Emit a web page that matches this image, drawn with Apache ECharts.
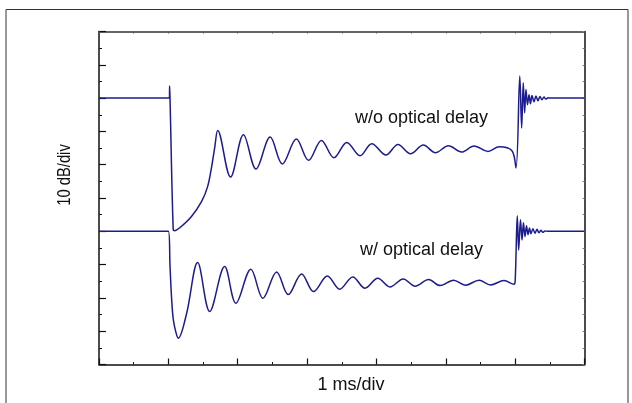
<!DOCTYPE html>
<html>
<head>
<meta charset="utf-8">
<script src="https://cdn.jsdelivr.net/npm/echarts@6/dist/echarts.min.js"></script>
<style>
  html, body { margin: 0; padding: 0; background: #fff; }
  #chart { width: 632px; height: 403px; }
</style>
</head>
<body>
<div id="chart"></div>
<script>
// time in ms (1 ms/div), level in divisions (10 dB/div)
const withoutDelay = [
  [0, 8.0], [1.015, 8.0], [1.018, 8.36], [1.025, 7.9], [1.07, 4.05], [1.09, 4.02],
  [1.16, 4.1], [1.33, 4.44], [1.48, 4.9], [1.567, 5.35], [1.625, 5.95], [1.671, 6.55],
  [1.711, 7.03], [1.897, 5.63], [2.083, 6.9], [2.264, 5.87], [2.468, 6.83], [2.643, 6.02],
  [2.846, 6.77], [3.021, 6.13], [3.207, 6.73], [3.387, 6.21], [3.573, 6.67], [3.763, 6.27],
  [3.933, 6.63], [4.136, 6.29], [4.311, 6.61], [4.491, 6.33], [4.677, 6.59], [4.851, 6.36],
  [5.038, 6.57], [5.229, 6.38], [5.409, 6.56], [5.607, 6.4], [5.77, 6.54], [5.954, 6.42],
  [6.012, 5.9], [6.067, 8.66], [6.094, 7.1], [6.117, 8.46], [6.137, 7.56], [6.156, 8.26],
  [6.178, 7.8], [6.2, 8.1], [6.221, 7.83], [6.243, 8.08], [6.272, 7.89], [6.3, 8.06],
  [6.329, 7.92], [6.358, 8.05], [6.387, 7.95], [6.416, 8.03], [6.445, 7.97], [6.473, 8.01],
  [6.502, 8.0], [7.0, 8.0]
];
const withDelay = [
  [0, 4.0], [1.0, 4.0], [1.024, 2.95], [1.048, 1.94], [1.072, 1.34], [1.111, 0.95], [1.143, 0.79],
  [1.264, 1.54], [1.422, 3.06], [1.596, 1.59], [1.811, 2.94], [1.974, 1.84], [2.189, 2.86], [2.363, 1.99],
  [2.561, 2.78], [2.729, 2.1], [2.921, 2.72], [3.093, 2.19], [3.293, 2.66], [3.47, 2.26],
  [3.659, 2.63], [3.835, 2.29], [4.02, 2.59], [4.195, 2.33], [4.386, 2.57], [4.559, 2.35],
  [4.752, 2.55], [4.919, 2.37], [5.112, 2.53], [5.283, 2.38], [5.479, 2.53], [5.646, 2.39],
  [5.839, 2.52], [5.983, 2.41], [6.001, 2.54], [6.031, 4.47], [6.051, 3.44], [6.077, 4.35],
  [6.099, 3.74], [6.12, 4.26], [6.142, 3.84], [6.164, 4.17], [6.185, 3.9], [6.207, 4.1],
  [6.228, 3.93], [6.257, 4.08], [6.286, 3.94], [6.315, 4.06], [6.344, 3.96], [6.372, 4.03],
  [6.401, 3.97], [6.43, 4.01], [6.473, 4.0], [7.0, 4.0]
];
const labels = ['w/o optical delay', 'w/ optical delay'];

const chart = echarts.init(document.getElementById('chart'));
const lineColor = '#1c1c8c';
const font = 'Liberation Sans, Arial, sans-serif';

function trace(name, data) {
  return {
    name: name,
    type: 'line',
    data: data,
    showSymbol: false,
    smooth: 0.35,
    lineStyle: { color: lineColor, width: 1.5 },
    xAxisIndex: 0,
    yAxisIndex: 0,
    animation: false
  };
}

let option = {
  animation: false,
  grid: { left: 99, right: 47.5, top: 31.5, bottom: 38.5, containLabel: false },
  xAxis: [{
    type: 'value', min: 0, max: 7, interval: 1, position: 'bottom',
    axisLine: { onZero: false, lineStyle: { color: '#111', width: 1.5 } },
    axisTick: { inside: true, length: 6, lineStyle: { color: '#111', width: 1.2 } },
    minorTick: { show: true, splitNumber: 2, length: 2.5, lineStyle: { color: '#111' } },
    axisLabel: { show: false },
    splitLine: { show: false }
  }, {
    type: 'value', min: 0, max: 7, interval: 1, position: 'top',
    axisLine: { show: true, onZero: false, lineStyle: { color: '#333', width: 1.5 } },
    axisTick: { show: true, inside: true, length: 2, lineStyle: { color: '#555' } },
    minorTick: { show: true, splitNumber: 2, length: 2, lineStyle: { color: '#555' } },
    axisLabel: { show: false },
    splitLine: { show: false }
  }],
  yAxis: [{
    type: 'value', min: 0, max: 10, interval: 1, position: 'left',
    axisLine: { show: true, onZero: false, lineStyle: { color: '#111', width: 1.5 } },
    axisTick: { show: true, inside: true, length: 7, lineStyle: { color: '#111', width: 1.2 } },
    minorTick: { show: true, splitNumber: 2, length: 3, lineStyle: { color: '#111' } },
    axisLabel: { show: false },
    splitLine: { show: false }
  }, {
    type: 'value', min: 0, max: 10, interval: 1, position: 'right',
    axisLine: { show: true, onZero: false, lineStyle: { color: '#111', width: 1.5 } },
    axisTick: { show: true, inside: true, length: 2, lineStyle: { color: '#888' } },
    minorTick: { show: true, splitNumber: 2, length: 2, lineStyle: { color: '#888' } },
    axisLabel: { show: false },
    splitLine: { show: false }
  }],
  series: [
    trace(labels[0], withoutDelay),
    trace(labels[1], withDelay)
  ],
  graphic: [
    {
      type: 'rect', silent: true, z: -1,
      shape: { x: 6, y: 9.5, width: 622, height: 420 },
      style: { fill: 'none', stroke: '#333', lineWidth: 1 }
    },
    {
      type: 'text', left: 355, top: 109,
      style: { text: labels[0], font: '18px ' + font, fill: '#111' }
    },
    {
      type: 'text', left: 360, top: 241,
      style: { text: labels[1], font: '18px ' + font, fill: '#111' }
    },
    {
      type: 'text', x: 351, y: 385,
      style: { text: '1 ms/div', font: '18px ' + font, fill: '#111', align: 'center', verticalAlign: 'middle' }
    },
    {
      // the source image squeezes this label along its length
      type: 'text', x: 65, y: 175, rotation: Math.PI / 2, scaleX: 0.82,
      style: { text: '10 dB/div', font: '18px ' + font, fill: '#111', align: 'center', verticalAlign: 'middle' }
    }
  ]
};

option && chart.setOption(option);
</script>
</body>
</html>
